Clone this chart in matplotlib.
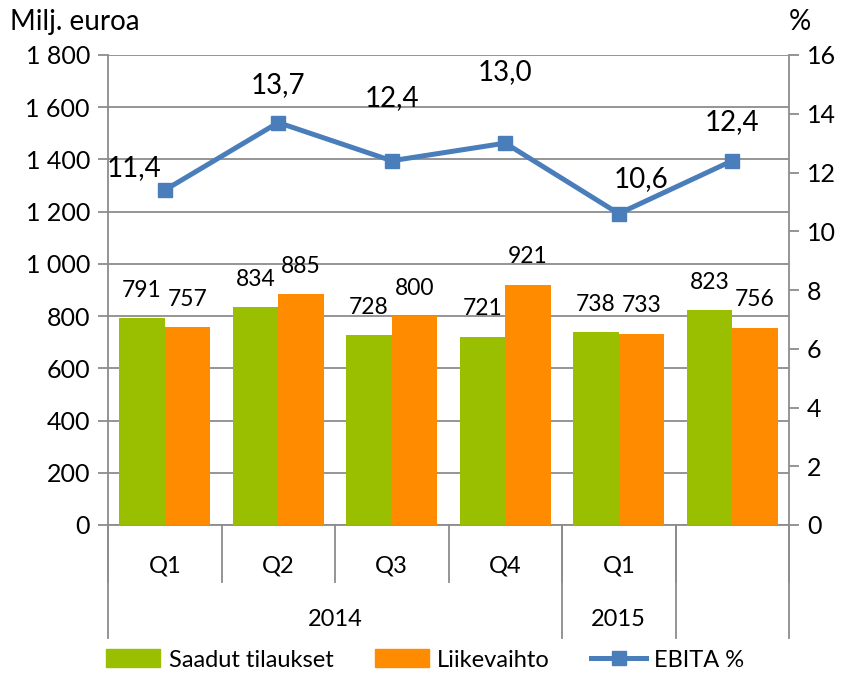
import matplotlib
matplotlib.use("Agg")
import matplotlib.pyplot as plt
from matplotlib.lines import Line2D
from matplotlib.patches import Patch
import numpy as np

plt.rcParams['font.family'] = ['Lato', 'DejaVu Sans']

quarters = ["Q1", "Q2", "Q3", "Q4", "Q1", ""]
years = ["2014", "2015", ""]
year_spans = [4, 1, 1]
orders = [791, 834, 728, 721, 738, 823]
revenue = [757, 885, 800, 921, 733, 756]
ebita = [11.4, 13.7, 12.4, 13.0, 10.6, 12.4]

# label offsets (points) for EBITA labels, styling only
ebita_label_offsets = [(-22, 16), (0, 27), (0, 45), (0, 51), (16, 25), (0, 28)]

GREEN = "#99BF00"
ORANGE = "#FF8C00"
BLUE = "#4A7EBB"
GRID = "#8C8C8C"

fig = plt.figure(figsize=(8.64, 6.73), dpi=100)
ax = fig.add_axes([108/864, 1-525/673, (789-108)/864, (525-55)/673])
x = np.arange(len(quarters))
w = 0.4
b1 = ax.bar(x - w/2, orders, w, color=GREEN, zorder=3)
b2 = ax.bar(x + w/2, revenue, w, color=ORANGE, zorder=3)
ax.set_xlim(-0.5, len(quarters) - 0.5)
ax.set_ylim(0, 1800)
ax.set_yticks(np.arange(0, 1801, 200))
ax.set_yticklabels([f"{v:,}".replace(",", " ") for v in range(0, 1801, 200)])
ax.yaxis.grid(True, color=GRID, lw=1.3, zorder=0)
ax.set_axisbelow(True)
for s in ["top", "right"]:
    ax.spines[s].set_visible(False)
for s in ["left", "bottom"]:
    ax.spines[s].set_color(GRID)
    ax.spines[s].set_linewidth(1.3)
ax.tick_params(axis='y', length=7, width=1.3, color=GRID, labelsize=18, pad=6)
ax.set_xticks([])

for rect, v in zip(b1, orders):
    ax.annotate(str(v), (rect.get_x() + rect.get_width()/2, v), xytext=(0, 20),
                textcoords="offset points", ha="center", va="center", fontsize=16.5)
for rect, v in zip(b2, revenue):
    ax.annotate(str(v), (rect.get_x() + rect.get_width()/2, v), xytext=(0, 20),
                textcoords="offset points", ha="center", va="center", fontsize=16.5)

ax2 = ax.twinx()
ax2.set_ylim(0, 16)
ax2.set_yticks(np.arange(0, 17, 2))
for s in ["top", "left", "bottom"]:
    ax2.spines[s].set_visible(False)
ax2.spines["right"].set_color(GRID)
ax2.spines["right"].set_linewidth(1.3)
ax2.tick_params(axis='y', length=7, width=1.3, color=GRID, labelsize=18, pad=6)
ax2.plot(x, ebita, color=BLUE, lw=3.6, marker="s", markersize=9.5, zorder=5)
for xi, v, off in zip(x, ebita, ebita_label_offsets):
    ax2.annotate(f"{v:.1f}".replace(".", ","), (xi, v), xytext=off,
                 textcoords="offset points", ha="center", va="center", fontsize=20)

# multi-level category axis
trans = ax.get_xaxis_transform()
for k in range(len(quarters) + 1):
    ax.add_line(Line2D([k - 0.5, k - 0.5], [0, -0.122], transform=trans,
                       color=GRID, lw=1.3, clip_on=False))
for xi, q in zip(x, quarters):
    ax.text(xi, -0.087, q, transform=trans, ha="center", va="center", fontsize=17)
start = 0
for yr, span in zip(years, year_spans):
    ax.add_line(Line2D([start - 0.5, start - 0.5], [0, -0.24], transform=trans,
                       color=GRID, lw=1.3, clip_on=False))
    ax.text(start - 0.5 + span/2, -0.202, yr, transform=trans, ha="center", va="center", fontsize=17)
    start += span
ax.add_line(Line2D([start - 0.5, start - 0.5], [0, -0.24], transform=trans,
                   color=GRID, lw=1.3, clip_on=False))

fig.text(10/864, 1-22/673, "Milj. euroa", fontsize=20, ha="left", va="center")
fig.text(800/864, 1-22/673, "%", fontsize=20, ha="center", va="center")

handles = [Patch(color=GREEN), Patch(color=ORANGE),
           Line2D([], [], color=BLUE, lw=3.6, marker="s", markersize=9.5)]
fig.legend(handles, ["Saadut tilaukset", "Liikevaihto", "EBITA %"], loc="center",
           bbox_to_anchor=(0.492, 1-660/673), ncol=3, frameon=False, fontsize=17,
           handlelength=2.3, handleheight=0.8, columnspacing=1.75, handletextpad=0.35)

fig.savefig("out.png", dpi=100)
